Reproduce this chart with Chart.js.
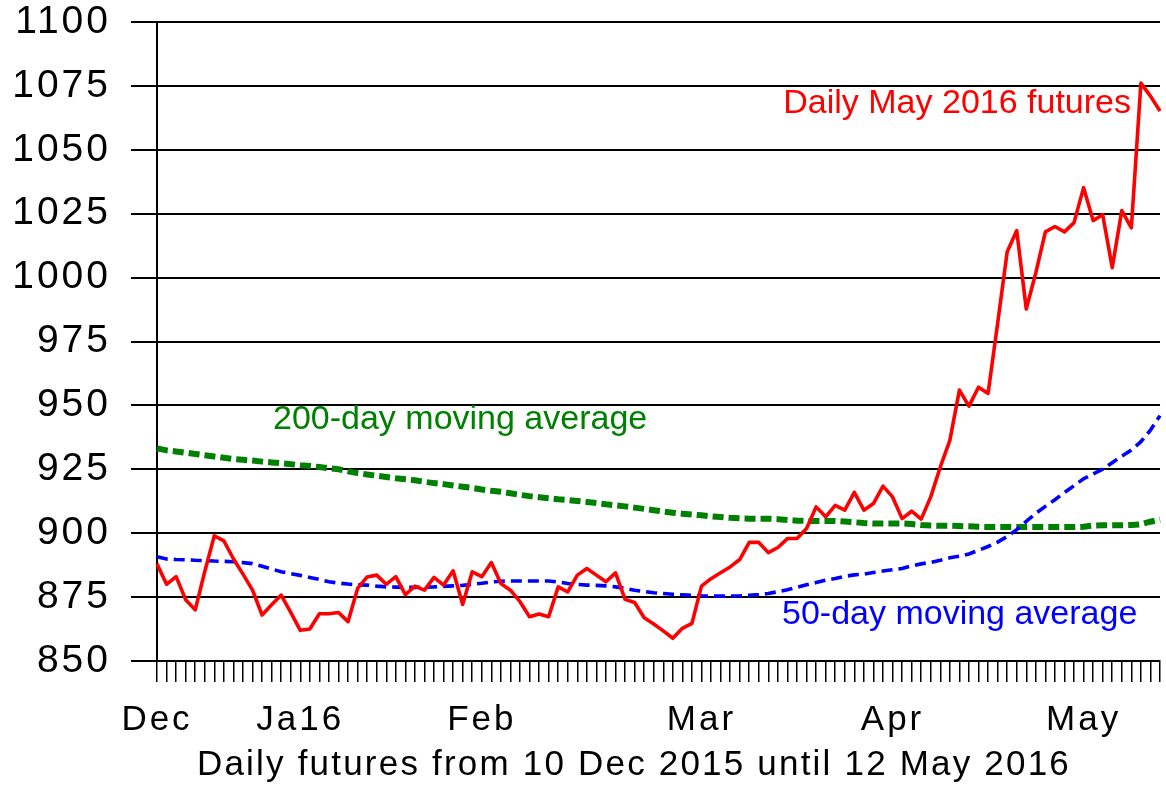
<!DOCTYPE html>
<html><head><meta charset="utf-8">
<script src="https://cdn.jsdelivr.net/npm/chart.js@4.4.1/dist/chart.umd.min.js"></script>
<style>html,body{margin:0;padding:0;background:#fff;}#wrap{width:1166px;height:785px;}</style>
</head><body><div id="wrap"><canvas id="c" width="1166" height="785"></canvas></div>
<script>
// ---- data ----
const monthNames = ['Dec','Ja16','Feb','Mar','Apr','May'];
const monthIndex = [0, 15, 34, 57, 77, 97];
const futures = [888, 880, 883, 874, 870, 885, 899, 897, 890, 884,
 877.7, 868, 872, 875.8, 869, 862, 862.5, 868.5, 868.5, 869,
 865.4, 878.4, 882.9, 883.6, 880, 883, 876, 879.3, 877.7, 882.7,
 879.7, 885.3, 872.1, 884.9, 883, 888.5, 880.3, 877.7, 873.2, 867.3,
 868.4, 867.3, 879, 877, 883.6, 886.2, 883.6, 881, 884.5, 874.1,
 872.9, 866.9, 864.5, 861.8, 858.9, 862.8, 864.7, 879.3, 882.2, 884.5,
 886.8, 889.7, 896.4, 896.4, 892.4, 894.4, 897.9, 897.9, 901.8, 910.3,
 906.4, 910.9, 909, 916, 909, 911.6, 918.4, 914.2, 905.7, 908.6,
 905.5, 914.2, 925.9, 936.3, 956, 949.7, 957.1, 954.7, 982, 1010,
 1018.4, 987.7, 1001.9, 1017.9, 1020, 1017.9, 1021.5, 1035.2, 1022.3, 1024.6,
 1003.9, 1026.2, 1019.5, 1076.1, 1071, 1065.2];
const ma50 = [890.8, 889.9, 889.7, 889.6, 889.4, 889.3, 889.1, 889.0, 888.8, 888.5,
 888.1, 887.1, 886.0, 884.9, 884.2, 883.5, 882.7, 881.9, 881.0, 880.5,
 880.1, 879.8, 879.7, 879.3, 879.0, 878.9, 878.8, 878.8, 878.9, 879.0,
 879.2, 879.4, 879.6, 880.0, 880.4, 880.9, 881.2, 881.3, 881.3, 881.3,
 881.3, 881.3, 880.9, 880.3, 880.0, 879.7, 879.6, 879.4, 879.0, 878.4,
 877.7, 877.2, 876.7, 876.4, 876.1, 875.9, 875.7, 875.5, 875.4, 875.4,
 875.4, 875.5, 875.7, 876.0, 876.4, 877.1, 877.9, 878.8, 879.8, 880.7,
 881.6, 882.3, 883.1, 883.7, 884.0, 884.6, 885.2, 885.7, 886.2, 887.2,
 888.0, 888.6, 889.4, 890.4, 891.0, 891.9, 893.3, 894.8, 896.5, 898.7,
 901.4, 904.6, 907.8, 910.5, 913.1, 915.9, 918.6, 921.3, 923.2, 925.0,
 927.6, 930.1, 932.5, 935.8, 940.3, 946.0];
const ma200 = [933.2, 932.4, 932.0, 931.5, 931.0, 930.5, 930.0, 929.5, 929.0, 928.7,
 928.4, 928.0, 927.7, 927.4, 927.0, 926.6, 926.3, 925.9, 925.4, 925.0,
 924.2, 923.5, 923.0, 922.5, 922.0, 921.5, 921.1, 920.7, 920.1, 919.6,
 919.2, 918.7, 918.2, 917.7, 917.1, 916.6, 916.2, 915.6, 915.0, 914.5,
 914.1, 913.7, 913.3, 913.0, 912.6, 912.2, 911.8, 911.3, 910.9, 910.5,
 910.0, 909.5, 909.0, 908.5, 908.0, 907.6, 907.3, 907.0, 906.6, 906.3,
 906.0, 905.8, 905.7, 905.7, 905.7, 905.5, 905.2, 904.9, 904.8, 904.8,
 904.8, 904.8, 904.6, 904.3, 904.0, 903.8, 903.8, 903.8, 903.8, 903.6,
 903.2, 903.0, 902.9, 902.9, 902.8, 902.7, 902.5, 902.4, 902.4, 902.4,
 902.4, 902.4, 902.4, 902.4, 902.4, 902.4, 902.4, 902.5, 903.0, 903.1,
 903.1, 903.1, 903.2, 903.5, 904.5, 905.3];
const yMin = 850, yMax = 1100, yStep = 25;
const seriesNames = ['Daily May 2016 futures', '200-day moving average', '50-day moving average'];
const xTitle = 'Daily futures from 10 Dec 2015 until 12 May 2016';

// ---- build ----
const categories = futures.map((_, i) => {
  const k = monthIndex.indexOf(i);
  return k >= 0 ? monthNames[k] : '';
});
const FONT = "'Liberation Sans', Arial, sans-serif";

const textPlugin = {
  id: 'texts',
  beforeDraw(chart) {
    chart.ctx.letterSpacing = '3px';
  },
  afterDatasetsDraw(chart) {
    const ctx = chart.ctx;
    ctx.save();
    ctx.letterSpacing = '0px';
    ctx.font = '34px ' + FONT;
    ctx.textBaseline = 'alphabetic';
    ctx.textAlign = 'right';
    ctx.fillStyle = '#FF0000';
    ctx.fillText(seriesNames[0], 1131, 113);
    ctx.textAlign = 'left';
    ctx.fillStyle = '#008000';
    ctx.fillText(seriesNames[1], 273, 429);
    ctx.fillStyle = '#0000FF';
    ctx.fillText(seriesNames[2], 782, 624);
    ctx.letterSpacing = '2.2px';
    ctx.font = '35px ' + FONT;
    ctx.fillStyle = '#000';
    ctx.textAlign = 'center';
    ctx.fillText(xTitle, 634, 775);
    ctx.restore();
  }
};

new Chart(document.getElementById('c'), {
  type: 'line',
  data: {
    labels: categories,
    datasets: [
      { label: seriesNames[0], data: futures, borderColor: '#FF0000', borderWidth: 3.6,
        pointRadius: 0, tension: 0, borderJoinStyle: 'round', fill: false },
      { label: seriesNames[2], data: ma50, borderColor: '#0000FF', borderWidth: 3.6,
        borderDash: [11, 6], pointRadius: 0, tension: 0, fill: false },
      { label: seriesNames[1], data: ma200, borderColor: '#008000', borderWidth: 6,
        borderDash: [11, 5], pointRadius: 0, tension: 0, fill: false }
    ]
  },
  options: {
    responsive: false,
    animation: false,
    devicePixelRatio: 1,
    layout: { padding: { left: 0, right: 6, top: 22, bottom: 0 } },
    plugins: { legend: { display: false }, tooltip: { enabled: false }, title: { display: false } },
    scales: {
      x: {
        type: 'category',
        offset: false,
        grid: { display: true, drawOnChartArea: false, drawTicks: true, tickLength: 21, color: '#000', lineWidth: 1.5 },
        border: { display: true, color: '#000', width: 2 },
        ticks: { autoSkip: false, maxRotation: 0, minRotation: 0, color: '#000', padding: 17,
                 font: { family: FONT, size: 35 } },
        afterFit: s => { s.height = 124; s.paddingLeft = 0; s.paddingRight = 0; }
      },
      y: {
        min: yMin, max: yMax,
        grid: { color: '#000', lineWidth: 2, tickLength: 26, drawTicks: true },
        border: { display: true, color: '#000', width: 2 },
        ticks: { stepSize: yStep, color: '#000', padding: 20, font: { family: FONT, size: 39 },
                 callback: v => String(v) },
        afterFit: s => { s.width = 157; s.paddingTop = 0; s.paddingBottom = 0; }
      }
    }
  },
  plugins: [textPlugin]
});
</script></body></html>
